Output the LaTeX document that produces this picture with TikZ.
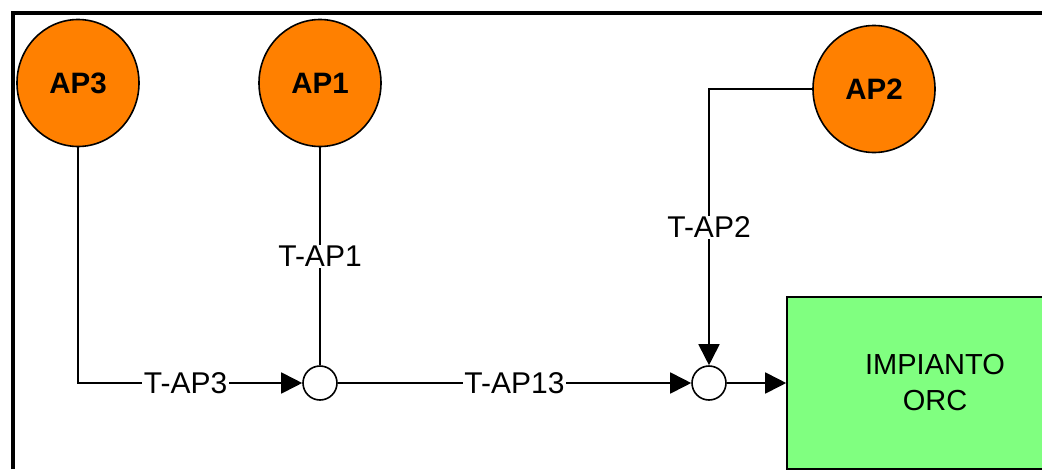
\documentclass[tikz,border=0pt]{standalone}
\usepackage{fontspec}
\setmainfont{Liberation Sans}
\usetikzlibrary{arrows.meta,shapes.geometric}
\begin{document}
\begin{tikzpicture}[x=1pt,y=-1pt,
  ap/.style={ellipse, draw, fill={rgb,255:red,255;green,128;blue,0}, line width=1.6,
    minimum width=122, minimum height=127, inner sep=0,
    font=\fontsize{29.5}{31}\selectfont\bfseries},
  junc/.style={circle, draw, fill=white, line width=1.6, minimum size=34, inner sep=0},
  plant/.style={rectangle, draw, fill={rgb,255:red,128;green,255;blue,128}, line width=1.6,
    minimum width=296, minimum height=172, inner sep=0, align=center,
    font=\fontsize{29}{36}\selectfont},
  lbl/.style={fill=white, inner xsep=1.5, inner ysep=1, font=\fontsize{30}{32}\selectfont},
  wire/.style={line width=1.8},
  flow/.style={wire, -{Triangle[length=21,width=21]}}]

\useasboundingbox (0,0) rectangle (1042,469);

% frame
\draw[line width=4] (13,469) -- (13,13) -- (1042,13);

% sources
\node[ap] (ap3) at (78,83) {AP3};
\node[ap] (ap1) at (320,83) {AP1};
\node[ap] (ap2) at (874,89) {AP2};

% mixing points
\node[junc] (j1) at (320,383) {};
\node[junc] (j2) at (709,383) {};

% plant
\node[plant] (orc) at (935,383) {IMPIANTO\\ORC};

% connections
\draw[flow] (ap3.south) |- node[lbl, pos=0.74] {T-AP3} (j1.west);
\draw[wire] (ap1.south) -- node[lbl, pos=0.5] {T-AP1} (j1.north);
\draw[flow] (j1.east) -- node[lbl] {T-AP13} (j2.west);
\draw[flow] (ap2.west) -| node[lbl, pos=0.75] {T-AP2} (j2.north);
\draw[flow] (j2.east) -- (orc.west);
\end{tikzpicture}
\end{document}
